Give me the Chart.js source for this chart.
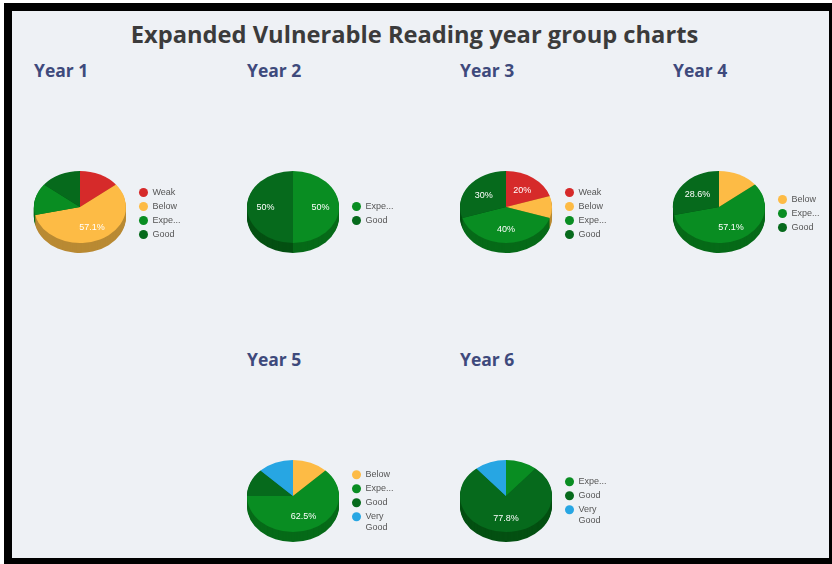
<!DOCTYPE html>
<html><head><meta charset="utf-8">
<script src="https://cdn.jsdelivr.net/npm/chart.js@4"></script>
<style>
html,body{margin:0;padding:0;background:#fff;}
#frame{position:absolute;left:4px;top:3px;width:817px;height:547px;background:#eef1f5;border:8px solid #000;border-right-width:3px;}
h1{position:absolute;left:0;top:33.5px;width:829px;margin:0;transform:translateY(-50%);text-align:center;font:700 23.7px "Open Sans";color:#3b3b3b;}
.yr{position:absolute;font:700 17.5px "Open Sans";color:#3e4a7c;transform:translateY(-50%);margin:0;}
canvas{position:absolute;}
</style></head><body>
<div id="frame"></div>
<h1>Expanded Vulnerable Reading year group charts</h1>
<script>
const WEAK='#d62a2a', BELOW='#fdbb45', EXPE='#098d22', GOOD='#066a1c', VERY='#27a6e3';
const SIDE={[WEAK]:'#961d1d',[BELOW]:'#b98a33',[EXPE]:'#066a18',[GOOD]:'#045012',[VERY]:'#1c74a0'};

const titles=['Year 1','Year 2','Year 3','Year 4','Year 5','Year 6'];
const labelsY1=['Weak','Below','Expected','Good'];
const valuesY1=[14.3,57.1,14.3,14.3];
const colorsY1=[WEAK,BELOW,EXPE,GOOD];
const labelsY2=['Expected','Good'];
const valuesY2=[50,50];
const colorsY2=[EXPE,GOOD];
const labelsY3=['Weak','Below','Expected','Good'];
const valuesY3=[20,10,40,30];
const colorsY3=[WEAK,BELOW,EXPE,GOOD];
const labelsY4=['Below','Expected','Good'];
const valuesY4=[14.3,57.1,28.6];
const colorsY4=[BELOW,EXPE,GOOD];
const labelsY5=['Below','Expected','Good','Very Good'];
const valuesY5=[12.5,62.5,12.5,12.5];
const colorsY5=[BELOW,EXPE,GOOD,VERY];
const labelsY6=['Expected','Good','Very Good'];
const valuesY6=[11.1,77.8,11.1];
const colorsY6=[EXPE,GOOD,VERY];
const showPct=[[57.1],[50],[20,40,30],[57.1,28.6],[62.5],[77.8]];

const allLabels=[labelsY1,labelsY2,labelsY3,labelsY4,labelsY5,labelsY6];
const allValues=[valuesY1,valuesY2,valuesY3,valuesY4,valuesY5,valuesY6];
const allColors=[colorsY1,colorsY2,colorsY3,colorsY4,colorsY5,colorsY6];
const centersX=[80,293,506,719,293,506];
const titleY=[70,70,70,70,359,359];
const legendMidY=[212,212,212,212,501,501];

const R=46, SQ=36/46, DEPTH=10, CW=200, CH=110;

function short(t){
  if(t==='Expected') return 'Expe...';
  if(t==='Very Good') return ['Very','Good'];
  return t;
}
const pie3d={
  id:'pie3d',
  afterLayout(chart){
    const cx=R+8;
    chart.chartArea.left=cx-R; chart.chartArea.right=cx+R; chart.chartArea.width=2*R;
    chart.chartArea.top=CH/2-R-5; chart.chartArea.bottom=CH/2+R-5; chart.chartArea.height=2*R;
    const lg=chart.legend;
    const w=lg.width;
    lg.left=cx+63-4-5; lg.right=lg.left+w; lg.top=1.5; lg.bottom=CH+1.5; lg.height=CH;
  },
  beforeDatasetsDraw(chart){
    const ctx=chart.ctx, arcs=chart.getDatasetMeta(0).data;
    const ds=chart.data.datasets[0];
    const cy=arcs[0].y;
    ctx.save();
    ctx.translate(0,cy); ctx.scale(1,SQ); ctx.translate(0,-cy);
    for(let d=DEPTH;d>=1;d--){
      arcs.forEach((a,i)=>{
        ctx.beginPath();
        ctx.moveTo(a.x,a.y+d/SQ);
        ctx.arc(a.x,a.y+d/SQ,a.outerRadius,a.startAngle,a.endAngle);
        ctx.closePath();
        ctx.fillStyle=SIDE[ds.backgroundColor[i]];
        ctx.fill();
      });
    }
  },
  afterDatasetsDraw(chart,args,opts){
    const ctx=chart.ctx;
    ctx.restore();
    const arcs=chart.getDatasetMeta(0).data, vals=chart.data.datasets[0].data;
    ctx.save();
    ctx.font='9px "Liberation Sans"';
    ctx.fillStyle='#fff';ctx.textAlign='center';ctx.textBaseline='middle';
    arcs.forEach((a,i)=>{
      if(!opts.show.includes(vals[i])) return;
      const mid=(a.startAngle+a.endAngle)/2;
      const r=a.outerRadius*0.6;
      ctx.fillText(vals[i]+'%',a.x+Math.cos(mid)*r,a.y+1+Math.sin(mid)*r*SQ);
    });
    ctx.restore();
  }
};
titles.forEach((t,i)=>{
  const h=document.createElement('div');h.className='yr';h.textContent=t;
  h.style.left=(centersX[i]-46)+'px';h.style.top=titleY[i]+'px';
  document.body.appendChild(h);
  const c=document.createElement('canvas');
  c.width=CW;c.height=CH;c.style.width=CW+'px';c.style.height=CH+'px';
  c.style.left=(centersX[i]-R-8)+'px';
  c.style.top=(legendMidY[i]-CH/2)+'px';
  document.body.appendChild(c);
  new Chart(c,{type:'pie',
    data:{labels:allLabels[i],datasets:[{data:allValues[i],backgroundColor:allColors[i],borderWidth:0}]},
    options:{responsive:false,animation:false,
      plugins:{
        tooltip:{enabled:false},
        pie3d:{show:showPct[i]},
        legend:{position:'right',align:'center',labels:{
          usePointStyle:true,pointStyle:'circle',pointStyleWidth:9,boxHeight:6.36,padding:5,
          color:'#555',font:{family:'"Liberation Sans"',size:9,lineHeight:1.25},
          generateLabels(ch){
            return ch.data.labels.map((l,k)=>({text:short(l),fontColor:'#555',fillStyle:ch.data.datasets[0].backgroundColor[k],strokeStyle:'transparent',lineWidth:0,pointStyle:'circle',index:k,hidden:false}));
          }
        }}
      }},
    plugins:[pie3d]});
});
</script>
</body></html>
